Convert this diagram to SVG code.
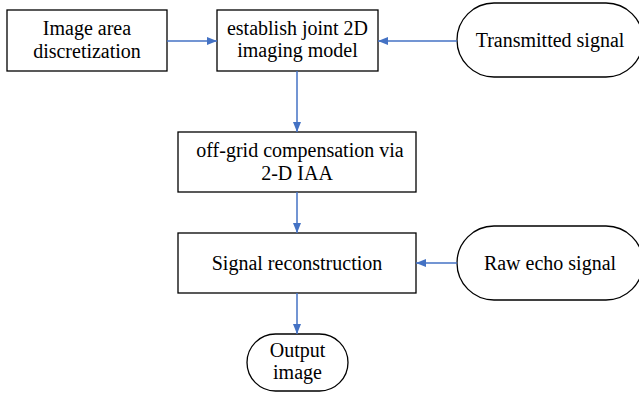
<svg xmlns="http://www.w3.org/2000/svg" width="639" height="393" viewBox="0 0 639 393">
<style>
.box{fill:#fff;stroke:#000;stroke-width:1.3}
.t{font-family:"Liberation Serif","Times New Roman",serif;font-size:20px;fill:#000;text-anchor:middle}
.c{stroke:#4472C4;stroke-width:1.5;fill:none;marker-end:url(#ah)}
</style>
<defs>
<marker id="ah" markerWidth="10" markerHeight="8" refX="10" refY="4" orient="auto" markerUnits="userSpaceOnUse">
<path d="M0,0 L10,4 L0,8 Z" fill="#4472C4"/>
</marker>
</defs>
<rect width="639" height="393" fill="#fff"/>
<g id="n1"><rect class="box" x="7" y="10" width="160" height="61"/><text class="t" x="87" y="35">Image area</text><text class="t" x="87" y="58">discretization</text></g>
<g id="n2"><rect class="box" x="217" y="10" width="161" height="61"/><text class="t" x="297.500" y="35">establish joint 2D</text><text class="t" x="297.500" y="57">imaging model</text></g>
<g id="n3"><rect class="box" x="457" y="3" width="186" height="74" rx="37"/><text class="t" x="550" y="47">Transmitted signal</text></g>
<g id="n4"><rect class="box" x="178" y="132" width="238" height="60"/><text class="t" x="300" y="157">off-grid compensation via</text><text class="t" x="297" y="180">2-D IAA</text></g>
<g id="n5"><rect class="box" x="178" y="233" width="238" height="60"/><text class="t" x="297" y="270">Signal reconstruction</text></g>
<g id="n6"><rect class="box" x="457" y="226" width="186" height="74" rx="37"/><text class="t" x="550" y="270">Raw echo signal</text></g>
<g id="n7"><rect class="box" x="247" y="334" width="101" height="57" rx="28.500"/><text class="t" x="297.500" y="357">Output</text><text class="t" x="297.500" y="379">image</text></g>
<g id="connectors">
<line class="c" x1="167" y1="41" x2="217" y2="41"/>
<line class="c" x1="457" y1="41" x2="378" y2="41"/>
<line class="c" x1="297" y1="71" x2="297" y2="132"/>
<line class="c" x1="297" y1="192" x2="297" y2="233"/>
<line class="c" x1="457" y1="263" x2="416" y2="263"/>
<line class="c" x1="297" y1="293" x2="297" y2="334"/>
</g>
</svg>
